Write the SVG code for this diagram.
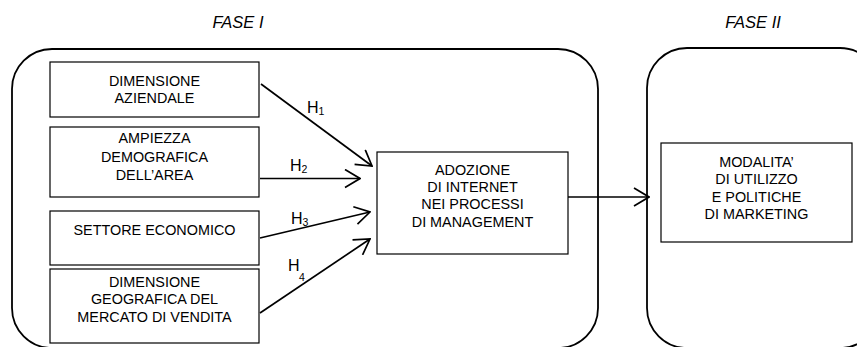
<svg xmlns="http://www.w3.org/2000/svg" width="857" height="347" viewBox="0 0 857 347">
<defs>
<style>
.phase{fill:none;stroke:#000;stroke-width:1.8}
.box{fill:#fff;stroke:#000;stroke-width:1.2}
.t{font-family:"Liberation Sans",Arial,sans-serif;font-size:14.4px;fill:#000;text-anchor:middle}
.title{font-family:"Liberation Sans",Arial,sans-serif;font-size:16.5px;font-style:italic;fill:#000;text-anchor:middle}
.h{font-family:"Liberation Sans",Arial,sans-serif;font-size:16px;fill:#000}
.sub{font-size:10.5px}
.c{fill:none;stroke:#000;stroke-width:1.7}
</style>
<marker id="arr" viewBox="0 0 17 20" refX="16" refY="10" markerWidth="17" markerHeight="20" markerUnits="userSpaceOnUse" orient="auto">
<path d="M1,1 L16,10 L1,19" fill="none" stroke="#000" stroke-width="1.7"/>
</marker>
</defs>
<rect width="857" height="347" fill="#fff"/>
<g id="fase1">
<rect class="phase" x="12" y="49" width="586" height="299" rx="40" ry="40"/>
<text class="title" x="238" y="28">FASE I</text>
</g>
<g id="fase2">
<rect class="phase" x="647" y="48" width="233" height="300" rx="40" ry="40"/>
<text class="title" x="753" y="28">FASE II</text>
</g>
<g id="dimensione-aziendale">
<rect class="box" x="50" y="62" width="209" height="55"/>
<text class="t" x="154.5" y="86">DIMENSIONE</text>
<text class="t" x="154.5" y="103">AZIENDALE</text>
</g>
<g id="ampiezza-demografica">
<rect class="box" x="50" y="127" width="209" height="70"/>
<text class="t" x="154.5" y="143">AMPIEZZA</text>
<text class="t" x="154.5" y="162">DEMOGRAFICA</text>
<text class="t" x="154.5" y="180">DELL’AREA</text>
</g>
<g id="settore-economico">
<rect class="box" x="50" y="211" width="209" height="54"/>
<text class="t" x="154.5" y="235">SETTORE ECONOMICO</text>
</g>
<g id="dimensione-geografica">
<rect class="box" x="50" y="269" width="209" height="74"/>
<text class="t" x="154.5" y="287">DIMENSIONE</text>
<text class="t" x="154.5" y="304">GEOGRAFICA DEL</text>
<text class="t" x="154.5" y="322">MERCATO DI VENDITA</text>
</g>
<g id="adozione-internet">
<rect class="box" x="377" y="152" width="191" height="102"/>
<text class="t" x="472.5" y="175">ADOZIONE</text>
<text class="t" x="472.5" y="192">DI INTERNET</text>
<text class="t" x="472.5" y="209">NEI PROCESSI</text>
<text class="t" x="472.5" y="227">DI MANAGEMENT</text>
</g>
<g id="modalita-utilizzo">
<rect class="box" x="661" y="143" width="191" height="99"/>
<text class="t" x="756.5" y="167">MODALITA’</text>
<text class="t" x="756.5" y="184">DI UTILIZZO</text>
<text class="t" x="756.5" y="202">E POLITICHE</text>
<text class="t" x="756.5" y="219">DI MARKETING</text>
</g>
<g id="connectors">
<line class="c" x1="261" y1="84" x2="372" y2="166" marker-end="url(#arr)"/>
<line class="c" x1="260" y1="178.5" x2="360" y2="178.5" marker-end="url(#arr)"/>
<line class="c" x1="260" y1="238" x2="370" y2="212" marker-end="url(#arr)"/>
<line class="c" x1="260" y1="313" x2="370" y2="239" marker-end="url(#arr)"/>
<line class="c" x1="568" y1="197" x2="649" y2="197" marker-end="url(#arr)"/>
<text class="h" x="307" y="113">H<tspan class="sub" dy="2">1</tspan></text>
<text class="h" x="290" y="171">H<tspan class="sub" dy="2">2</tspan></text>
<text class="h" x="291" y="224">H<tspan class="sub" dy="2">3</tspan></text>
<text class="h" x="288" y="271">H</text>
<text class="h sub" x="299" y="281">4</text>
</g>
</svg>
